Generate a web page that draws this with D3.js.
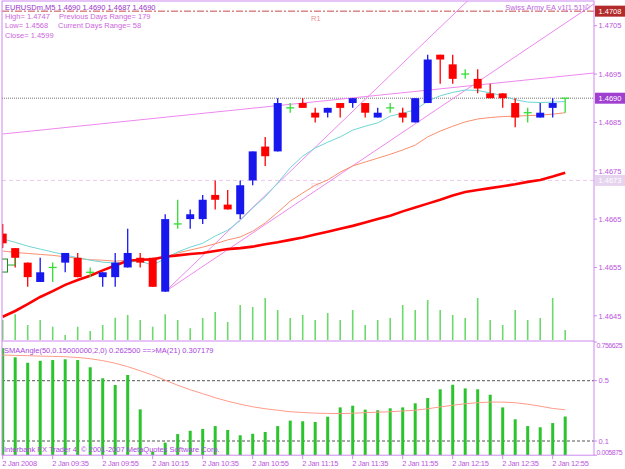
<!DOCTYPE html>
<html><head><meta charset="utf-8">
<script src="https://cdn.jsdelivr.net/npm/d3@7"></script>
<style>body{margin:0;background:#fff}svg{display:block}text{font-family:"Liberation Sans",Arial,sans-serif;font-size:7.5px}</style>
</head><body><svg id="c" width="625" height="469"></svg>
<script>
// ---------- data ----------
const opens  = [1.4662,1.4659,1.4656,1.4652,1.4655,1.4656,1.4657,1.4654,1.4653,1.4653,1.4655,1.4657,1.4657,1.4650,1.4664,1.4665,1.4665,1.4670,1.4668,1.4666,1.4673,1.4680,1.4679,1.4688,1.4689,1.4687,1.4687,1.4689,1.4689,1.4689,1.4686,1.4688,1.4687,1.4685,1.4689,1.4699,1.4697,1.4695,1.4694,1.4691,1.4691,1.4689,1.4687,1.4686,1.4688,1.4690];
const highs  = [1.4664,1.4659,1.4656,1.4657,1.4656,1.4658,1.4658,1.4655,1.4654,1.4658,1.4663,1.4658,1.4657,1.4666,1.4669,1.4667,1.4670,1.4673,1.4671,1.4673,1.4679,1.4682,1.4690,1.4689,1.4690,1.4688,1.4688,1.4689,1.4690,1.4689,1.4688,1.4689,1.4688,1.4690,1.4699,1.4699,1.4699,1.4696,1.4696,1.4693,1.4691,1.4690,1.4688,1.4689,1.4690,1.4690];
const lows   = [1.4659,1.4655,1.4651,1.4652,1.4652,1.4654,1.4653,1.4653,1.4651,1.4651,1.4655,1.4655,1.4651,1.4650,1.4663,1.4663,1.4664,1.4667,1.4667,1.4665,1.4672,1.4676,1.4679,1.4687,1.4688,1.4685,1.4686,1.4686,1.4688,1.4686,1.4686,1.4687,1.4685,1.4685,1.4689,1.4693,1.4693,1.4694,1.4691,1.4690,1.4688,1.4684,1.4685,1.4686,1.4686,1.4687];
const closes = [1.4660,1.4657,1.4653,1.4654,1.4655,1.4658,1.4653,1.4654,1.4654,1.4656,1.4658,1.4656,1.4651,1.4665,1.4664,1.4666,1.4669,1.4669,1.4667,1.4672,1.4679,1.4678,1.4689,1.4688,1.4688,1.4686,1.4688,1.4688,1.4690,1.4687,1.4687,1.4688,1.4686,1.4690,1.4698,1.4698,1.4694,1.4695,1.4692,1.4690,1.4690,1.4686,1.4687,1.4687,1.4689,1.4690];
const volumes = [20,25.7,15,20,13.3,5,13.3,9,15,22.3,25,20,13.3,25.7,20,11.7,22,28,18,35,33,42,30,22,25,20,27,20,30,15,20,22,35,30,40,30,25,22,42,20,15,30,20,22,42,10];
const maSlow = [1.46448,1.46460,1.46474,1.46489,1.46501,1.46514,1.46524,1.46533,1.46544,1.46554,1.46564,1.46566,1.46567,1.46572,1.46575,1.46578,1.46580,1.46584,1.46588,1.46590,1.46593,1.46598,1.46602,1.46607,1.46612,1.46618,1.46624,1.46630,1.46636,1.46643,1.46650,1.46657,1.46666,1.46674,1.46682,1.46690,1.46699,1.46706,1.46710,1.46714,1.46718,1.46722,1.46727,1.46731,1.46738,1.46746];
const maMid  = [1.46584,1.46581,1.46579,1.46577,1.46575,1.46572,1.46569,1.46566,1.46565,1.46563,1.46565,1.46565,1.46564,1.46572,1.46580,1.46586,1.46592,1.46599,1.46607,1.46613,1.46625,1.46642,1.46664,1.46687,1.46704,1.46720,1.46731,1.46747,1.46760,1.46768,1.46776,1.46784,1.46793,1.46803,1.46820,1.46832,1.46842,1.46851,1.46857,1.46860,1.46862,1.46863,1.46864,1.46865,1.46867,1.46870];
const maFast = [1.46609,1.46602,1.46594,1.46588,1.46582,1.46576,1.46570,1.46565,1.46561,1.46559,1.46561,1.46563,1.46555,1.46568,1.46582,1.46592,1.46600,1.46615,1.46627,1.46647,1.46673,1.46696,1.46725,1.46756,1.46780,1.46797,1.46809,1.46820,1.46834,1.46842,1.46849,1.46863,1.46869,1.46876,1.46894,1.46905,1.46912,1.46917,1.46916,1.46911,1.46905,1.46897,1.46892,1.46891,1.46892,1.46893];
const angleVals = [0.716,0.655,0.619,0.632,0.637,0.642,0.637,0.589,0.516,0.471,0.538,0.310,0.029,0.089,0.146,0.168,0.180,0.199,0.173,0.138,0.148,0.160,0.199,0.235,0.231,0.226,0.261,0.323,0.334,0.308,0.304,0.317,0.323,0.350,0.385,0.443,0.473,0.449,0.443,0.407,0.323,0.244,0.199,0.191,0.219,0.2625];
const angleMA = [0.670,0.668,0.666,0.663,0.661,0.659,0.654,0.646,0.633,0.616,0.593,0.566,0.537,0.503,0.470,0.440,0.414,0.387,0.364,0.344,0.327,0.314,0.304,0.294,0.289,0.285,0.283,0.282,0.284,0.288,0.291,0.294,0.299,0.304,0.314,0.326,0.337,0.347,0.354,0.358,0.358,0.354,0.344,0.331,0.316,0.307179];
const timeLabels = ["2 Jan 2008","2 Jan 09:35","2 Jan 09:55","2 Jan 10:15","2 Jan 10:35","2 Jan 10:55","2 Jan 11:15","2 Jan 11:35","2 Jan 11:55","2 Jan 12:15","2 Jan 12:35","2 Jan 12:55"];
const priceTicks = [1.4705,1.4695,1.4685,1.4675,1.4665,1.4655,1.4645];
const subTicks = [0.756625,0.5,0.1,0.005875];
const subLevels = [0.5,0.1];
// trendlines: [startBar, startPrice, throughBar, throughPrice]
const trendA = [0, 1.46826, 45, 1.46946];
const trendB = [13, 1.4650, 33.92, 1.47020];
const trendC = [13, 1.4650, 42.98, 1.47020];
const levelR1 = 1.4708, levelPP = 1.4673, levelBid = 1.4690;

// ---------- scales ----------
const svg = d3.select("#c");
const L = 2, R = 594, T = 1, MB = 340, ST = 342, SB = 455.2;
const x = d3.scaleLinear().domain([0, 45]).range([2.7, 565.2]);
const y = d3.scaleLinear().domain([1.46400, 1.47101]).range([MB, T]);
const yv = d3.scaleLinear().domain([0, 50]).range([MB, MB - 50]);
const ys = d3.scaleLinear().domain([0.005875, 0.756625]).range([SB, ST]);
const idx = d3.range(opens.length);

svg.append("rect").attr("width",625).attr("height",469).attr("fill","#fff");
const defs = svg.append("defs");
defs.append("clipPath").attr("id","cm").append("rect").attr("x",L).attr("y",T).attr("width",R-L).attr("height",MB-T);
defs.append("clipPath").attr("id","cs").append("rect").attr("x",L).attr("y",ST).attr("width",R-L).attr("height",SB-ST);

const main = svg.append("g").attr("clip-path","url(#cm)");
const sub = svg.append("g").attr("clip-path","url(#cs)");

// volume bars in main window
main.selectAll(".vol").data(idx).join("line")
  .attr("x1",i=>x(i)).attr("x2",i=>x(i)).attr("y1",yv(0)).attr("y2",i=>yv(volumes[i]))
  .attr("stroke","#6cd96c").attr("stroke-width",1.6);

// horizontal levels
main.append("line").attr("x1",L).attr("x2",R).attr("y1",y(levelPP)).attr("y2",y(levelPP))
  .attr("stroke","#ecc8ec").attr("stroke-width",1).attr("stroke-dasharray","4,3");
main.append("line").attr("x1",L).attr("x2",R).attr("y1",y(levelR1)).attr("y2",y(levelR1))
  .attr("stroke","#c84848").attr("stroke-width",1).attr("stroke-dasharray","7,2,2,2");
main.append("line").attr("x1",L).attr("x2",R).attr("y1",y(levelBid)).attr("y2",y(levelBid))
  .attr("stroke","#777").attr("stroke-width",1).attr("stroke-dasharray","1,1");
main.append("text").attr("x",311).attr("y",21).attr("fill","#ee9090").text("R1");
main.append("text").attr("x",311).attr("y",y(levelPP)+8).attr("fill","#ecd8ec").text("PP");

// trend rays
function ray(t){
  const x1=x(t[0]), y1=y(t[1]), x2=x(t[2]), y2=y(t[3]);
  const k=(y2-y1)/(x2-x1);
  main.append("line").attr("x1",x1).attr("y1",y1).attr("x2",R).attr("y2",y1+k*(R-x1))
    .attr("stroke","#ee88ee").attr("stroke-width",1);
}
[trendA,trendB,trendC].forEach(ray);

// moving averages
const ln = arr => d3.line().x((d,i)=>x(i)).y(d=>y(d))(arr);
main.append("path").attr("d",ln(maMid)).attr("fill","none").attr("stroke","#fa9070").attr("stroke-width",1);
main.append("path").attr("d",ln(maFast)).attr("fill","none").attr("stroke","#6fd6d6").attr("stroke-width",1);
main.append("path").attr("d",ln(maSlow)).attr("fill","none").attr("stroke","#ff0000").attr("stroke-width",2.6);

// candles
const colOf = i => closes[i]>opens[i] ? "#1818ee" : (closes[i]<opens[i] ? "#ff0000" : "#33dd33");
const cg = main.selectAll(".c").data(idx).join("g");
cg.append("line").attr("x1",i=>x(i)).attr("x2",i=>x(i)).attr("y1",i=>y(highs[i])).attr("y2",i=>y(lows[i]))
  .attr("stroke",colOf).attr("stroke-width",1.3);
cg.filter(i=>opens[i]!==closes[i]).append("rect")
  .attr("x",i=>x(i)-4).attr("width",8)
  .attr("y",i=>y(Math.max(opens[i],closes[i])))
  .attr("height",i=>y(Math.min(opens[i],closes[i]))-y(Math.max(opens[i],closes[i])))
  .attr("fill",colOf);
cg.filter(i=>opens[i]===closes[i]).append("line")
  .attr("x1",i=>x(i)-4).attr("x2",i=>x(i)+4).attr("y1",i=>y(opens[i])).attr("y2",i=>y(opens[i]))
  .attr("stroke","#33dd33").attr("stroke-width",1.3);

// small green label object at left
main.append("rect").attr("x",1.5).attr("y",y(1.46555)-6).attr("width",6).attr("height",13)
  .attr("fill","none").attr("stroke","#228822").attr("stroke-width",1);
main.append("path").attr("d",`M7.5,${y(1.46555)}H${x(1)}V${y(closes[1])}`).attr("fill","none").attr("stroke","#22aa22");

// ---------- sub window ----------
sub.selectAll("line.lv").data(subLevels).join("line")
  .attr("x1",L).attr("x2",R).attr("y1",d=>ys(d)).attr("y2",d=>ys(d))
  .attr("stroke","#555").attr("stroke-dasharray","3,2");
sub.selectAll(".hb").data(idx).join("rect")
  .attr("x",i=>x(i)-1.5).attr("width",3).attr("y",i=>ys(angleVals[i]))
  .attr("height",i=>ys(0.005875)-ys(angleVals[i])).attr("fill","#2cc42c");
sub.append("path").attr("d",d3.line().x((d,i)=>x(i)).y(d=>ys(d))(angleMA))
  .attr("fill","none").attr("stroke","#ff9a8a").attr("stroke-width",1);

// ---------- frames & axes ----------
const vio = "#cc88ee";
svg.append("rect").attr("x",L).attr("y",T).attr("width",R-L).attr("height",SB-T).attr("fill","none").attr("stroke",vio);
svg.append("line").attr("x1",L).attr("x2",R).attr("y1",341).attr("y2",341).attr("stroke",vio);

const axT = "#bb55dd";
svg.selectAll(".pt").data(priceTicks).join("g").each(function(d){
  const g=d3.select(this);
  g.append("line").attr("x1",R).attr("x2",R+3).attr("y1",y(d)).attr("y2",y(d)).attr("stroke",vio);
  g.append("text").attr("x",R+4.5).attr("y",y(d)+2.8).attr("fill",axT).text(d.toFixed(4));
});
function tag(p, bg, fg){
  svg.append("rect").attr("x",R+1).attr("y",y(p)-5.5).attr("width",31).attr("height",11).attr("fill",bg);
  svg.append("text").attr("x",R+4.5).attr("y",y(p)+2.8).attr("fill",fg).text(p.toFixed(4));
}
tag(levelR1,"#b22a2a","#fff");
tag(levelBid,"#a040d0","#fff");
tag(levelPP,"#e6d4ee","#fff");

svg.selectAll(".st").data(subTicks).join("g").each(function(d,i){
  const g=d3.select(this);
  const last = i===subTicks.length-1;
  const yy = i===0 ? ST+5.5 : (last ? SB-0.5 : ys(d)+2.8);
  g.append("line").attr("x1",R).attr("x2",R+3).attr("y1",ys(d)).attr("y2",ys(d)).attr("stroke",vio);
  g.append("text").attr("x",(i===0||last)?R+2.5:R+4.5).attr("y",yy).attr("fill",axT)
    .attr("letter-spacing",(i===0||last)?"-0.45":"0").style("font-size",(i===0||last)?"7px":null).text(String(d));
});

svg.selectAll(".tl").data(timeLabels).join("g").each(function(d,i){
  const g=d3.select(this), xx=x(i*4);
  g.append("line").attr("x1",xx).attr("x2",xx).attr("y1",SB).attr("y2",SB+4).attr("stroke",vio);
  g.append("text").attr("x",xx-0.5).attr("y",466).attr("fill",axT).attr("letter-spacing","-0.25").text(d);
});

// ---------- texts ----------
svg.append("text").attr("x",5).attr("y",9.5).attr("fill","#9933cc").text("EURUSDm,M5  1.4690 1.4690 1.4687 1.4690");
const info = "#cc66dd";
svg.append("text").attr("x",5).attr("y",18.5).attr("fill",info).text("High= 1.4747");
svg.append("text").attr("x",59).attr("y",18.5).attr("fill",info).text("Previous Days Range= 179");
svg.append("text").attr("x",5).attr("y",28).attr("fill",info).text("Low= 1.4568");
svg.append("text").attr("x",58).attr("y",28).attr("fill",info).text("Current Days Range= 58");
svg.append("text").attr("x",5).attr("y",37.5).attr("fill",info).text("Close= 1.4599");
svg.append("text").attr("x",590).attr("y",9.5).attr("text-anchor","end").attr("fill","#bb66dd").text("Swiss Army EA v1[1.51]©");
svg.append("text").attr("x",4).attr("y",353).attr("fill","#aa44dd").text("SMAAngle(50,0.15000000,2,0) 0.262500  ==>MA(21) 0.307179");
svg.append("text").attr("x",4).attr("y",452).attr("fill","#aa44dd").text("Interbank FX Trader 4, © 2001-2007 MetaQuotes Software Corp.");
</script></body></html>
